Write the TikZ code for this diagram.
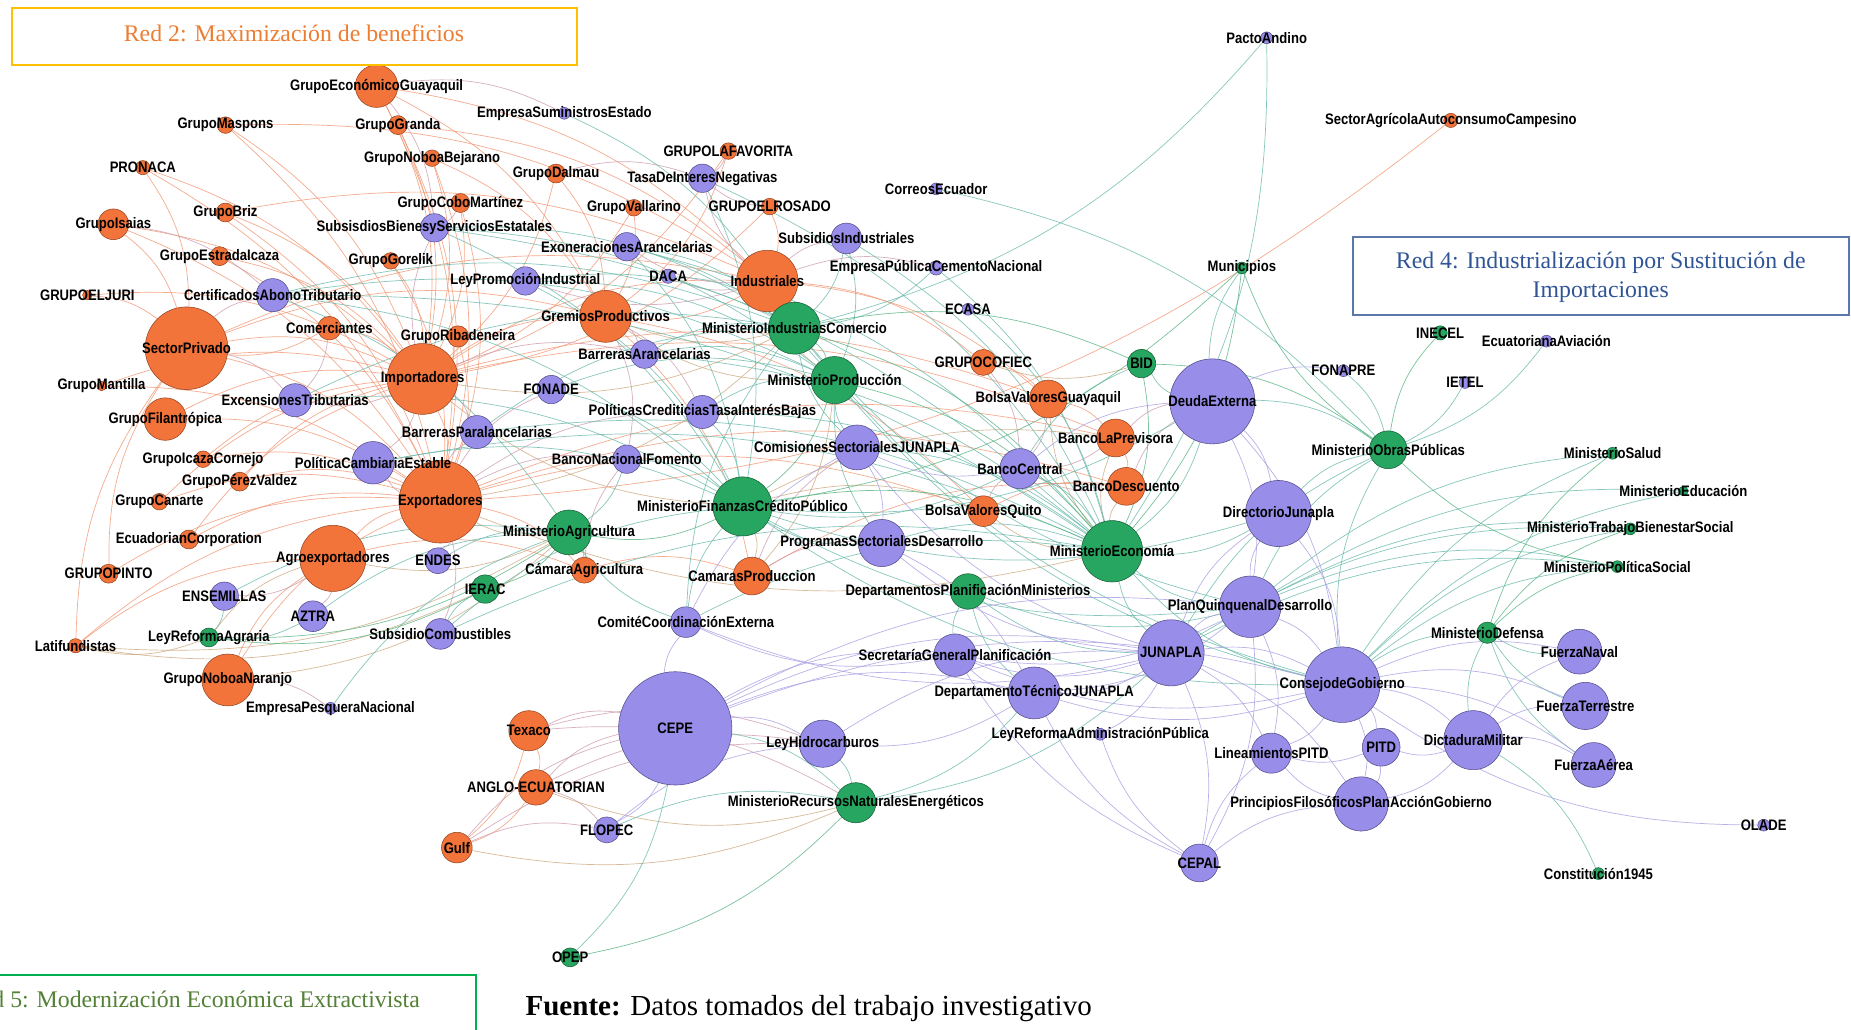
\documentclass[tikz,border=0pt]{standalone}
\usepackage{fontspec}
\setmainfont{Liberation Serif}
\newfontfamily\gephifont{Liberation Sans}[FakeStretch=0.86]

\definecolor{orgfill}{RGB}{243,116,58}
\definecolor{orgline}{RGB}{150,70,35}
\definecolor{purfill}{RGB}{152,141,232}
\definecolor{purline}{RGB}{85,78,140}
\definecolor{grnfill}{RGB}{38,166,96}
\definecolor{grnline}{RGB}{25,95,55}
\definecolor{edgeor}{RGB}{242,150,115}
\definecolor{edgemx}{RGB}{205,155,175}
\definecolor{edgeog}{RGB}{205,168,125}
\definecolor{edgetl}{RGB}{105,185,170}
\definecolor{edgegr}{RGB}{85,180,130}
\definecolor{edgepu}{RGB}{168,158,226}
\definecolor{redtwoline}{RGB}{255,192,0}
\definecolor{redtwotext}{RGB}{237,125,49}
\definecolor{redfourline}{RGB}{90,120,170}
\definecolor{redfourtext}{RGB}{47,85,151}
\definecolor{redfiveline}{RGB}{0,176,80}
\definecolor{redfivetext}{RGB}{83,129,53}

\pgfdeclarelayer{back}
\pgfdeclarelayer{edges}
\pgfdeclarelayer{labels}
\pgfsetlayers{back,edges,main,labels}

\tikzset{
  orgnode/.style={circle, fill=orgfill, draw=orgline, line width=0.4pt, inner sep=0pt},
  purnode/.style={circle, fill=purfill, draw=purline, line width=0.4pt, inner sep=0pt},
  grnnode/.style={circle, fill=grnfill, draw=grnline, line width=0.4pt, inner sep=0pt},
  lbl/.style={font=\gephifont\bfseries\fontsize{11}{11}\selectfont, inner sep=0pt, text=black},
  eor/.style={draw=edgeor, line width=0.5pt, opacity=0.8},
  emx/.style={draw=edgemx, line width=0.5pt, opacity=0.8},
  eog/.style={draw=edgeog, line width=0.5pt, opacity=0.8},
  etl/.style={draw=edgetl, line width=0.5pt, opacity=0.8},
  egr/.style={draw=edgegr, line width=0.5pt, opacity=0.8},
  epu/.style={draw=edgepu, line width=0.5pt, opacity=0.8},
  boxtext/.style={font=\fontsize{17.2}{21.3}\selectfont, inner sep=0pt}
}

% name, x, y, radius, style, label
\newcommand{\netnode}[6]{%
  \node[#5, minimum size=#4*0.6mm] (#1) at (#2,#3) {};
  \begin{pgfonlayer}{labels}\node[lbl] (#1-lbl) at (#1) {#6};\end{pgfonlayer}}

\begin{document}
\begin{tikzpicture}[x=0.3mm, y=-0.3mm]
  \def\bend{17}
  \useasboundingbox (0,0) rectangle (1568,872);
  \begin{pgfonlayer}{back}
    \fill[white] (0,0) rectangle (1568,872);
  \end{pgfonlayer}

  % red 2
  \netnode{geg}{319}{73}{18}{orgnode}{GrupoEconómicoGuayaquil}
  \netnode{gmas}{191}{106}{7}{orgnode}{GrupoMaspons}
  \netnode{ggra}{337}{106}{8}{orgnode}{GrupoGranda}
  \netnode{pron}{121}{142}{6}{orgnode}{PRONACA}
  \netnode{gnb}{366}{134}{7}{orgnode}{GrupoNoboaBejarano}
  \netnode{gdal}{471}{147}{8}{orgnode}{GrupoDalmau}
  \netnode{glaf}{617}{128}{7}{orgnode}{GRUPOLAFAVORITA}
  \netnode{gcm}{390}{172}{8}{orgnode}{GrupoCoboMartínez}
  \netnode{gval}{537}{176}{7}{orgnode}{GrupoVallarino}
  \netnode{gros}{652}{175}{7}{orgnode}{GRUPOELROSADO}
  \netnode{gbriz}{191}{180}{8}{orgnode}{GrupoBriz}
  \netnode{gisa}{96}{190}{13}{orgnode}{GrupoIsaias}
  \netnode{geic}{186}{217}{8}{orgnode}{GrupoEstradaIcaza}
  \netnode{ggor}{331}{221}{7}{orgnode}{GrupoGorelik}
  \netnode{ind}{650}{238}{26}{orgnode}{Industriales}
  \netnode{gelj}{74}{250}{4}{orgnode}{GRUPOELJURI}
  \netnode{gremios}{513}{268}{22}{orgnode}{GremiosProductivos}
  \netnode{comer}{279}{278}{10}{orgnode}{Comerciantes}
  \netnode{grib}{388}{285}{9}{orgnode}{GrupoRibadeneira}
  \netnode{spriv}{158}{295}{35}{orgnode}{SectorPrivado}
  \netnode{cofiec}{833}{307}{11}{orgnode}{GRUPOCOFIEC}
  \netnode{imp}{358}{321}{30}{orgnode}{Importadores}
  \netnode{gman}{86}{327}{4}{orgnode}{GrupoMantilla}
  \netnode{bvg}{888}{338}{16}{orgnode}{BolsaValoresGuayaquil}
  \netnode{gfil}{140}{355}{18}{orgnode}{GrupoFilantrópica}
  \netnode{blp}{945}{371}{16}{orgnode}{BancoLaPrevisora}
  \netnode{gicc}{172}{389}{7}{orgnode}{GrupoIcazaCornejo}
  \netnode{gpv}{203}{408}{8}{orgnode}{GrupoPérezValdez}
  \netnode{bdes}{954}{412}{16}{orgnode}{BancoDescuento}
  \netnode{exp}{373}{425}{35}{orgnode}{Exportadores}
  \netnode{gcan}{135}{425}{7}{orgnode}{GrupoCanarte}
  \netnode{bvq}{833}{433}{13}{orgnode}{BolsaValoresQuito}
  \netnode{ecorp}{160}{457}{8}{orgnode}{EcuadorianCorporation}
  \netnode{agro}{282}{473}{28}{orgnode}{Agroexportadores}
  \netnode{camag}{495}{483}{11}{orgnode}{CámaraAgricultura}
  \netnode{campr}{637}{488}{16}{orgnode}{CamarasProduccion}
  \netnode{gpin}{92}{486}{8}{orgnode}{GRUPOPINTO}
  \netnode{latif}{64}{547}{6}{orgnode}{Latifundistas}
  \netnode{gnn}{193}{576}{22}{orgnode}{GrupoNoboaNaranjo}
  \netnode{texaco}{448}{619}{17}{orgnode}{Texaco}
  \netnode{anglo}{454}{667}{15}{orgnode}{ANGLO-ECUATORIAN}
  \netnode{gulf}{387}{718}{13}{orgnode}{Gulf}
  \netnode{sacc}{1229}{102}{6}{orgnode}{SectorAgrícolaAutoconsumoCampesino}

  % red 4
  \netnode{esum}{478}{96}{5}{purnode}{EmpresaSuministrosEstado}
  \netnode{tin}{595}{151}{12}{purnode}{TasaDeInteresNegativas}
  \netnode{sbse}{368}{193}{12}{purnode}{SubsisdiosBienesyServiciosEstatales}
  \netnode{exar}{531}{209}{12}{purnode}{ExoneracionesArancelarias}
  \netnode{subind}{717}{202}{13}{purnode}{SubsidiosIndustriales}
  \netnode{correos}{793}{160}{5}{purnode}{CorreosEcuador}
  \netnode{epcn}{793}{227}{6}{purnode}{EmpresaPúblicaCementoNacional}
  \netnode{lpi}{445}{238}{12}{purnode}{LeyPromociónIndustrial}
  \netnode{daca}{566}{234}{6}{purnode}{DACA}
  \netnode{cat}{231}{250}{14}{purnode}{CertificadosAbonoTributario}
  \netnode{ecasa}{820}{262}{5}{purnode}{ECASA}
  \netnode{barar}{546}{300}{12}{purnode}{BarrerasArancelarias}
  \netnode{fonade}{467}{330}{12}{purnode}{FONADE}
  \netnode{exctr}{250}{339}{14}{purnode}{ExcensionesTributarias}
  \netnode{pctib}{595}{349}{14}{purnode}{PolíticasCrediticiasTasaInterésBajas}
  \netnode{bparar}{404}{366}{14}{purnode}{BarrerasParalancelarias}
  \netnode{bnf}{531}{389}{12}{purnode}{BancoNacionalFomento}
  \netnode{csj}{726}{379}{19}{purnode}{ComisionesSectorialesJUNAPLA}
  \netnode{pce}{316}{392}{18}{purnode}{PolíticaCambiariaEstable}
  \netnode{bcen}{864}{397}{17}{purnode}{BancoCentral}
  \netnode{deuda}{1027}{340}{36}{purnode}{DeudaExterna}
  \netnode{dirj}{1083}{435}{28}{purnode}{DirectorioJunapla}
  \netnode{psd}{747}{460}{20}{purnode}{ProgramasSectorialesDesarrollo}
  \netnode{endes}{371}{475}{11}{purnode}{ENDES}
  \netnode{ensem}{190}{505}{12}{purnode}{ENSEMILLAS}
  \netnode{aztra}{265}{522}{13}{purnode}{AZTRA}
  \netnode{subcomb}{373}{537}{13}{purnode}{SubsidioCombustibles}
  \netnode{cce}{581}{527}{13}{purnode}{ComitéCoordinaciónExterna}
  \netnode{pqd}{1059}{514}{26}{purnode}{PlanQuinquenalDesarrollo}
  \netnode{junapla}{992}{553}{28}{purnode}{JUNAPLA}
  \netnode{sgp}{809}{555}{18}{purnode}{SecretaríaGeneralPlanificación}
  \netnode{dtj}{876}{587}{22}{purnode}{DepartamentoTécnicoJUNAPLA}
  \netnode{cgob}{1137}{580}{32}{purnode}{ConsejodeGobierno}
  \netnode{fnav}{1338}{552}{19}{purnode}{FuerzaNaval}
  \netnode{fter}{1343}{598}{20}{purnode}{FuerzaTerrestre}
  \netnode{epn}{280}{600}{5}{purnode}{EmpresaPesqueraNacional}
  \netnode{cepe}{572}{617}{48}{purnode}{CEPE}
  \netnode{lhid}{697}{630}{20}{purnode}{LeyHidrocarburos}
  \netnode{lrap}{932}{622}{5}{purnode}{LeyReformaAdministraciónPública}
  \netnode{lpitd}{1077}{638}{17}{purnode}{LineamientosPITD}
  \netnode{pitd}{1170}{633}{16}{purnode}{PITD}
  \netnode{dmil}{1248}{627}{25}{purnode}{DictaduraMilitar}
  \netnode{faer}{1350}{648}{19}{purnode}{FuerzaAérea}
  \netnode{pfpag}{1153}{681}{23}{purnode}{PrincipiosFilosóficosPlanAcciónGobierno}
  \netnode{flopec}{514}{703}{11}{purnode}{FLOPEC}
  \netnode{cepal}{1016}{731}{16}{purnode}{CEPAL}
  \netnode{olade}{1494}{699}{5}{purnode}{OLADE}
  \netnode{pandino}{1073}{32}{5}{purnode}{PactoAndino}
  \netnode{fonapre}{1138}{314}{5}{purnode}{FONAPRE}
  \netnode{ietel}{1241}{324}{5}{purnode}{IETEL}
  \netnode{eav}{1310}{289}{5}{purnode}{EcuatorianaAviación}

  % red 5
  \netnode{mic}{673}{278}{22}{grnnode}{MinisterioIndustriasComercio}
  \netnode{mprod}{707}{322}{20}{grnnode}{MinisterioProducción}
  \netnode{munic}{1052}{227}{5}{grnnode}{Municipios}
  \netnode{bid}{967}{308}{12}{grnnode}{BID}
  \netnode{inecel}{1220}{282}{6}{grnnode}{INECEL}
  \netnode{mop}{1176}{381}{16}{grnnode}{MinisterioObrasPúblicas}
  \netnode{mfcp}{629}{429}{25}{grnnode}{MinisterioFinanzasCréditoPúblico}
  \netnode{magr}{482}{451}{19}{grnnode}{MinisterioAgricultura}
  \netnode{meco}{942}{467}{26}{grnnode}{MinisterioEconomía}
  \netnode{ierac}{411}{499}{12}{grnnode}{IERAC}
  \netnode{dpm}{820}{501}{15}{grnnode}{DepartamentosPlanificaciónMinisterios}
  \netnode{lra}{177}{540}{8}{grnnode}{LeyReformaAgraria}
  \netnode{mdef}{1260}{536}{9}{grnnode}{MinisterioDefensa}
  \netnode{msal}{1366}{384}{5}{grnnode}{MinisterioSalud}
  \netnode{medu}{1426}{416}{4}{grnnode}{MinisterioEducación}
  \netnode{mtbs}{1381}{448}{5}{grnnode}{MinisterioTrabajoBienestarSocial}
  \netnode{mps}{1370}{480}{5}{grnnode}{MinisterioPolíticaSocial}
  \netnode{c1945}{1354}{740}{5}{grnnode}{Constitución1945}
  \netnode{mrne}{725}{680}{17}{grnnode}{MinisterioRecursosNaturalesEnergéticos}
  \netnode{opep}{483}{811}{8}{grnnode}{OPEP}

  \begin{pgfonlayer}{edges}
  \foreach \a/\b in {geg/imp, geg/exp, geg/ind, gmas/imp, gmas/exp, ggra/imp, ggra/exp, ggra/ind,
      pron/imp, pron/exp, gnb/imp, gnb/exp, gnb/gremios, gdal/imp, gdal/gremios, glaf/gremios,
      glaf/imp, gcm/imp, gcm/exp, gval/gremios, gval/imp, gros/ind, gros/imp, gbriz/imp, gbriz/exp,
      gisa/imp, gisa/exp, gisa/spriv, geic/exp, geic/imp, ggor/imp, ggor/exp, gelj/imp, gelj/spriv,
      comer/imp, comer/spriv, grib/imp, grib/exp, spriv/imp, spriv/exp, spriv/ind, spriv/gremios,
      gman/imp, gman/exp, gfil/exp, gfil/imp, gicc/exp, gicc/imp, gpv/exp, gpv/imp, gcan/exp,
      ecorp/exp, ecorp/imp, agro/exp, agro/camag, gpin/exp, gpin/spriv, latif/agro, latif/spriv,
      latif/exp, gnn/exp, gnn/agro, imp/exp, imp/gremios, imp/ind, ind/gremios, gremios/campr,
      camag/campr, exp/camag, cofiec/bvg, bvg/blp, blp/bdes, bvq/bdes, imp/bvg, exp/blp, exp/bdes,
      ind/cofiec, gremios/bvq, campr/bdes, ind/bvg, exp/bvq, imp/blp, sacc/exp, texaco/anglo,
      anglo/gulf, texaco/gulf, pron/spriv, gmas/ind, gbriz/ind, geg/gremios, gcan/imp}
    \draw[eor] (\a) to[bend left=\bend] (\b);
  \foreach \a/\b in {texaco/cepe, anglo/cepe, gulf/cepe, texaco/lhid, anglo/lhid, gulf/lhid,
      anglo/flopec, exp/bparar, imp/bparar, imp/barar, exp/pce, imp/exctr, spriv/cat, spriv/exctr,
      exp/pctib, imp/sbse, ind/subind, ind/lpi, ind/exar, ind/tin, gremios/barar, gremios/bnf,
      agro/ensem, agro/aztra, exp/endes, exp/subcomb, bdes/bcen, blp/bcen, bvq/bcen, bvg/bcen,
      blp/deuda, bdes/deuda, campr/csj, campr/psd, camag/bnf, gdal/tin, glaf/tin, geg/esum,
      gcm/sbse, comer/exctr, imp/pce, exp/fonade, ind/daca, ind/epcn, gremios/pctib, exp/bnf,
      geg/sbse, gisa/cat, gros/tin, cofiec/bcen, gnn/epn, texaco/mrne, gulf/flopec}
    \draw[emx] (\a) to[bend left=\bend] (\b);
  \foreach \a/\b in {mic/ind, mic/gremios, mprod/ind, mprod/gremios, mfcp/blp, meco/bdes, meco/blp,
      meco/bvg, magr/agro, magr/camag, magr/latif, magr/exp, mic/imp, mic/exp, mfcp/imp, meco/exp,
      ierac/latif, lra/latif, bid/cofiec, mfcp/bvq, meco/bvq, lra/agro, magr/gnn, mrne/anglo,
      mrne/gulf, mfcp/campr, mprod/campr}
    \draw[eog] (\a) to[bend left=\bend] (\b);
  \foreach \a/\b in {cat/mic, cat/mprod, cat/mfcp, cat/meco, sbse/mic, sbse/mprod, sbse/meco,
      exar/mic, exar/mprod, exar/mfcp, lpi/mic, lpi/mprod, subind/mic, subind/mprod, subind/meco,
      tin/mfcp, tin/meco, daca/mic, epcn/mic, epcn/meco, correos/mop, ecasa/meco, barar/mic,
      barar/mprod, barar/meco, fonade/mprod, fonade/mfcp, exctr/mfcp, exctr/mic, pctib/mfcp,
      pctib/meco, pctib/mprod, bparar/mic, bparar/meco, bnf/mfcp, bnf/magr, csj/mprod, csj/meco,
      csj/mic, pce/mfcp, pce/meco, bcen/mfcp, bcen/meco, deuda/meco, deuda/mfcp, deuda/bid,
      deuda/mop, dirj/meco, dirj/mop, psd/mfcp, psd/meco, endes/magr, ensem/magr, aztra/magr,
      aztra/lra, ensem/lra, subcomb/mfcp, subcomb/meco, subcomb/ierac, cce/mfcp, cce/meco, cce/magr,
      pqd/meco, pqd/mop, pqd/mfcp, pqd/dpm, junapla/meco, junapla/dpm, junapla/mop, sgp/dpm,
      dtj/mrne, dtj/dpm, cgob/mop, cgob/meco, cgob/mdef, cgob/msal, cgob/medu, cgob/mtbs, cgob/mps,
      cgob/mfcp, pqd/msal, pqd/medu, pqd/mtbs, pqd/mps, junapla/mps, junapla/mtbs, fnav/mdef,
      fter/mdef, faer/mdef, dmil/mdef, dmil/c1945, cepe/mrne, lhid/mrne, flopec/mrne, cepe/opep,
      junapla/mrne, fonapre/mop, ietel/mop, eav/mop, pandino/mic, pandino/meco, esum/mic, epn/magr,
      cgob/mic, cgob/mprod, pqd/mic, psd/mprod, cce/mic, dirj/mfcp, bcen/bid, deuda/munic,
      cat/magr, sbse/mfcp, lpi/mfcp, exar/meco}
    \draw[etl] (\a) to[bend left=\bend] (\b);
  \foreach \a/\b in {mic/mprod, mprod/mfcp, mfcp/meco, mfcp/magr, magr/ierac, ierac/lra, magr/lra,
      mic/bid, bid/meco, bid/mop, mop/inecel, mop/munic, munic/meco, munic/mfcp, mrne/opep,
      mic/meco, mprod/meco, mdef/msal, mdef/mps, mdef/mtbs, mps/mop}
    \draw[egr] (\a) to[bend left=\bend] (\b);
  \foreach \a/\b in {junapla/cgob, junapla/pqd, junapla/dirj, junapla/sgp, junapla/dtj, junapla/csj,
      junapla/cce, junapla/psd, junapla/cepal, junapla/lrap, junapla/lpitd, junapla/pfpag, pqd/cgob,
      pqd/dirj, pqd/cepal, pqd/lpitd, cgob/dmil, cgob/fnav, cgob/fter, cgob/faer, cgob/pitd,
      cgob/pfpag, cgob/lpitd, olade/cgob, dmil/fter, dmil/faer, dmil/fnav, dmil/pitd, dmil/pfpag,
      pitd/lpitd, pitd/pfpag, cepal/lpitd, cepal/pfpag, cepal/dtj, cepal/lrap, cepal/sgp, dtj/sgp,
      dtj/lhid, cepe/lhid, cepe/flopec, cepe/junapla, cepe/cce, cepe/dtj, cepe/sgp, deuda/dirj,
      deuda/pqd, deuda/cgob, deuda/fonapre, dirj/cgob, csj/psd, psd/dtj, sgp/cce, cce/csj,
      bcen/deuda, bcen/csj, pqd/sgp, pqd/dtj, cgob/dtj, cgob/sgp, cepe/pqd, cepe/cgob,
      lhid/junapla, flopec/lhid, pfpag/lpitd}
    \draw[epu] (\a) to[bend left=\bend] (\b);
  \end{pgfonlayer}

  % boxes
  \draw[redtwoline, line width=1.3pt] (10,7) rectangle (489,55);
  \node[boxtext, text=redtwotext] (red2) at (249,28) {Red 2: Maximización de beneficios};
  \draw[redfourline, line width=1.3pt] (1146,201) rectangle (1566,267);
  \node[boxtext, text=redfourtext, align=center] (red4) at (1356,235)
    {Red 4: Industrialización por Sustitución de\\Importaciones};
  \draw[redfiveline, line width=1.3pt] (-60,826) rectangle (403,900);
  \node[boxtext, text=redfivetext, anchor=west] (red5) at (-29,847)
    {Red 5: Modernización Económica Extractivista};
  \node[font=\fontsize{21}{24}\selectfont, inner sep=0pt, anchor=west] (fuente) at (445,854)
    {\textbf{Fuente:} Datos tomados del trabajo investigativo};
\end{tikzpicture}
\end{document}
